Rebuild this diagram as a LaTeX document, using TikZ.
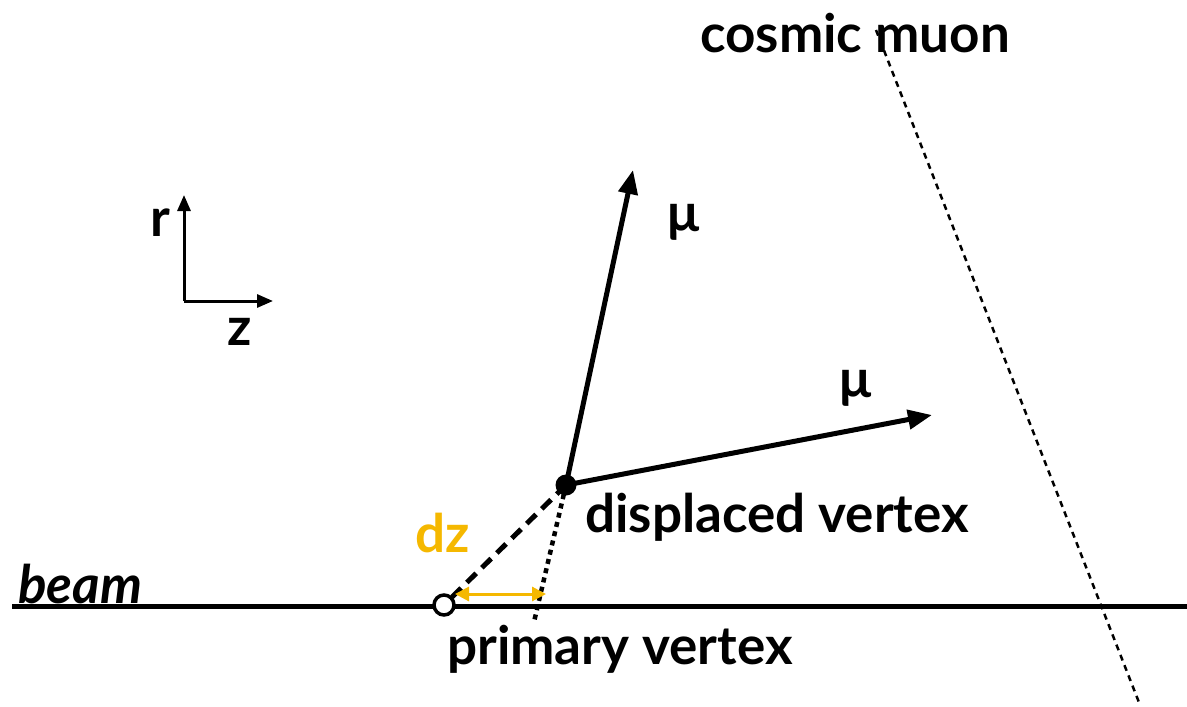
\documentclass[tikz,border=0pt]{standalone}
\usepackage{fontspec}
\setmainfont{Lato}
\usetikzlibrary{arrows.meta}
\definecolor{dzorange}{HTML}{F5B800}
\begin{document}
\begin{tikzpicture}[x=1pt,y=-1pt,
  lbl/.style={font=\fontsize{53}{58}\selectfont\bfseries, inner sep=0pt},
  track/.style={line width=5pt, -{Triangle[length=24pt,width=19pt]}},
  axis/.style={line width=3pt, -{Triangle[length=16pt,width=13pt]}}]
\useasboundingbox (0,0) rectangle (1187,707);
% beam
\coordinate (bl) at (12,606);
\coordinate (br) at (1187,606);
\draw[line width=5pt] (bl) -- (br);
\node[lbl, font=\fontsize{53}{58}\selectfont\bfseries\itshape, anchor=base west] (beam) at (18,603) {beam};
% vertices
\coordinate (pvc) at (444,605);
\coordinate (dvc) at (566,485);
\coordinate (dotend) at (534,622);
\coordinate (dzl) at (455,594);
\coordinate (dzr) at (546,594);
% cosmic muon
\coordinate (cmtop) at (876,30);
\coordinate (cmbot) at (1140,705);
\draw[line width=2.5pt, dash pattern=on 6pt off 5pt] (cmtop) -- (cmbot);
\node[lbl, anchor=base] (cosmic) at (855,52) {cosmic muon};
% dashed and dotted lines
\draw[line width=5pt, dash pattern=on 13pt off 8pt] (dvc) -- (pvc);
\draw[line width=4.5pt, dash pattern=on 5pt off 4.5pt] (dvc) -- (dotend);
% dz arrow
\draw[dzorange, line width=3pt, {Triangle[length=14pt,width=14pt]}-{Triangle[length=14pt,width=14pt]}] (dzl) -- (dzr);
\node[lbl, text=dzorange, anchor=base west] (dz) at (415,552) {dz};
% muon tracks
\coordinate (mu1tip) at (633,170);
\coordinate (mu2tip) at (932,415);
\draw[track] (dvc) -- (mu1tip);
\draw[track] (dvc) -- (mu2tip);
\node[lbl, anchor=center] (mu1) at (684,222) {μ};
\node[lbl, anchor=center] (mu2) at (856,388) {μ};
% vertex markers
\node[circle, fill=black, minimum size=21pt, inner sep=0pt] (dv) at (dvc) {};
\node[circle, draw=black, fill=white, line width=3.5pt, minimum size=20pt, inner sep=0pt] (pv) at (pvc) {};
\node[lbl, anchor=base west] (dvlabel) at (585,532) {displaced vertex};
\node[lbl, anchor=base west] (pvlabel) at (447,664) {primary vertex};
% axes
\coordinate (origin) at (184,301);
\coordinate (rtip) at (184,195);
\coordinate (ztip) at (273,301);
\draw[axis] (origin) -- (rtip);
\draw[axis] (origin) -- (ztip);
\node[lbl, anchor=base] (rlab) at (160,236) {r};
\node[lbl, anchor=base] (zlab) at (240,345) {z};
\end{tikzpicture}
\end{document}
